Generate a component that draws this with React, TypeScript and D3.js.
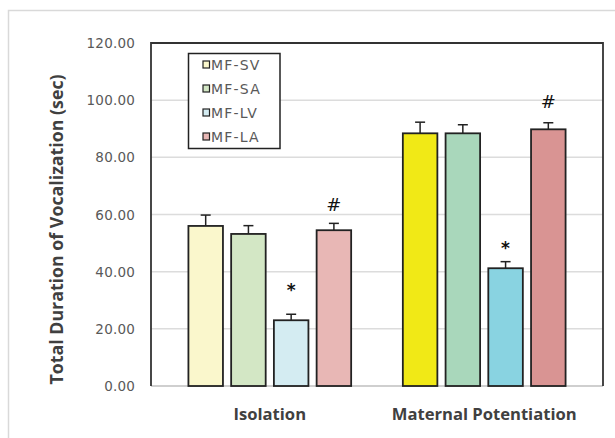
import React from "react";
import * as d3 from "d3";

// Groups, series and measured values (mean ± SEM, seconds)
const groups = ["Isolation", "Maternal Potentiation"];
const series = ["MF-SV", "MF-SA", "MF-LV", "MF-LA"];
const isolationMeans = [56.0, 53.2, 23.0, 54.5];
const isolationErrors = [3.8, 2.9, 2.1, 2.4];
const maternalMeans = [88.4, 88.4, 41.2, 89.8];
const maternalErrors = [3.9, 3.0, 2.3, 2.3];
const isolationColors = ["#faf7cc", "#d3e7c5", "#d4ecf2", "#e8b7b5"];
const maternalColors = ["#f1e916", "#a9d7bb", "#89d3e1", "#d99493"];
const isolationMarks = ["", "", "*", "#"];
const maternalMarks = ["", "", "*", "#"];
const yTicks = [0, 20, 40, 60, 80, 100, 120];

const W = 615;
const H = 438;
const plot = { left: 151, right: 603, top: 43, bottom: 386 };
// gap (px) between the error-bar cap and the significance mark, per group
const markGap = [
  [0, 0, 27, 18],
  [0, 0, 17, 21],
];

export default function App() {
  const y = d3.scaleLinear().domain([0, 120]).range([plot.bottom, plot.top]);
  const x0 = d3
    .scaleBand<string>()
    .domain(groups)
    .range([plot.left, plot.right])
    .paddingInner(0.241)
    .paddingOuter(0.1745);
  const x1 = d3
    .scaleBand<string>()
    .domain(series)
    .range([0, x0.bandwidth()])
    .paddingInner(0.192)
    .paddingOuter(0);

  const data = [
    { g: groups[0], means: isolationMeans, errs: isolationErrors, colors: isolationColors, marks: isolationMarks },
    { g: groups[1], means: maternalMeans, errs: maternalErrors, colors: maternalColors, marks: maternalMarks },
  ];

  const tickFont = "DejaVu Sans, sans-serif";
  const boldFont = "'Open Sans', 'DejaVu Sans', sans-serif";

  return (
    <svg width={W} height={H} style={{ position: "absolute", left: 0, top: 0, background: "#fff" }}>
      {/* chart frame */}
      <rect x={8.5} y={10.5} width={640} height={460} fill="#fff" stroke="#d9d9d9" strokeWidth={1.5} />

      {/* gridlines */}
      {yTicks.slice(1).map((t) => (
        <line key={t} x1={plot.left} x2={plot.right} y1={y(t)} y2={y(t)} stroke="#dcdcdc" strokeWidth={1.5} />
      ))}
      <line x1={plot.left} x2={plot.right} y1={y(0)} y2={y(0)} stroke="#bfbfbf" strokeWidth={1.5} />

      {/* y tick labels */}
      {yTicks.map((t) => (
        <text
          key={t}
          x={135}
          y={y(t) + 5}
          textAnchor="end"
          fontFamily={tickFont}
          fontSize={13.5}
          letterSpacing={0.2}
          fill="#595959"
        >
          {d3.format(".2f")(t)}
        </text>
      ))}

      {/* bars */}
      {data.map((d, gi) => (
        <g key={d.g} transform={`translate(${x0(d.g)},0)`}>
          {series.map((s, i) => {
            const bx = x1(s)!;
            const bw = x1.bandwidth();
            const cx = bx + bw / 2;
            const top = y(d.means[i]);
            const errTop = y(d.means[i] + d.errs[i]);
            const isStar = d.marks[i] === "*";
            return (
              <g key={s}>
                <line x1={cx} x2={cx} y1={top} y2={errTop} stroke="#222" strokeWidth={1.5} />
                <line x1={cx - 5} x2={cx + 5} y1={errTop} y2={errTop} stroke="#222" strokeWidth={1.5} />
                <rect
                  x={bx}
                  y={top}
                  width={bw}
                  height={y(0) - top}
                  fill={d.colors[i]}
                  stroke="#222"
                  strokeWidth={1.8}
                />
                {d.marks[i] && (
                  <text
                    x={cx}
                    y={errTop - markGap[gi][i] + (isStar ? 9 : 6)}
                    textAnchor="middle"
                    fontFamily={tickFont}
                    fontSize={isStar ? 17 : 18}
                    fontWeight={isStar ? "bold" : "normal"}
                    fill="#111"
                  >
                    {d.marks[i]}
                  </text>
                )}
              </g>
            );
          })}
        </g>
      ))}

      {/* plot border: top, left, right */}
      <path
        d={`M${plot.left},${plot.bottom}V${plot.top}H${plot.right}V${plot.bottom}`}
        fill="none"
        stroke="#333"
        strokeWidth={1.8}
      />

      {/* x category labels */}
      {groups.map((g) => (
        <text
          key={g}
          x={x0(g)! + x0.bandwidth() / 2}
          y={420}
          textAnchor="middle"
          fontFamily={boldFont}
          fontWeight="bold"
          fontSize={16.6}
          fill="#404040"
        >
          {g}
        </text>
      ))}

      {/* y axis title */}
      <text
        transform={`translate(63,${(plot.top + plot.bottom) / 2 + 15}) rotate(-90)`}
        textAnchor="middle"
        fontFamily={boldFont}
        fontWeight="bold"
        fontSize={17.8}
        fill="#404040"
      >
        Total Duration of Vocalization (sec)
      </text>

      {/* legend */}
      <g>
        <rect x={188.5} y={53.5} width={91.5} height={95} fill="#fff" stroke="#222" strokeWidth={1.5} />
        {series.map((s, i) => {
          const ly = 64.5 + i * 24;
          return (
            <g key={s}>
              <rect x={203} y={ly - 3.5} width={6.5} height={7} fill={isolationColors[i]} stroke="#222" strokeWidth={1.2} />
              <text
                x={211}
                y={ly + 5}
                fontFamily={tickFont}
                fontSize={14}
                letterSpacing={1.2}
                fill="#595959"
              >
                {s}
              </text>
            </g>
          );
        })}
      </g>
    </svg>
  );
}
